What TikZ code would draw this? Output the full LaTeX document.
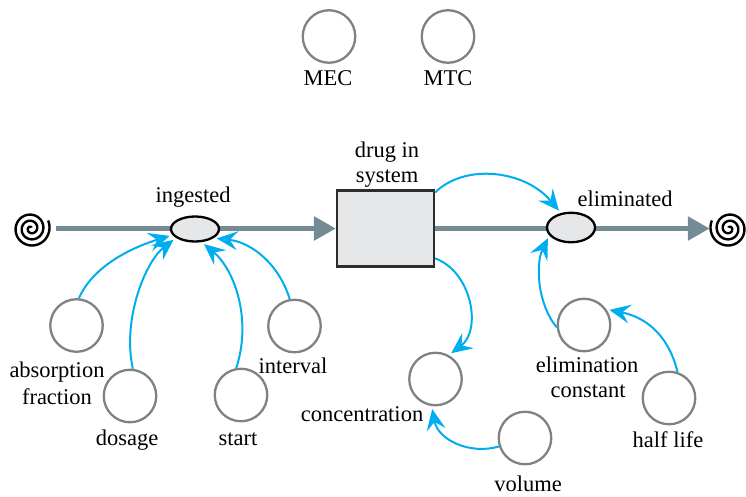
\documentclass[tikz,border=0pt]{standalone}
\usepackage{fontspec}
\setmainfont{Liberation Serif}
\usetikzlibrary{arrows.meta,shapes.geometric}
\definecolor{auxgray}{RGB}{128,129,132}
\definecolor{pipegray}{RGB}{116,138,148}
\definecolor{valvefill}{RGB}{230,231,233}
\definecolor{stockline}{RGB}{45,45,45}
\definecolor{linkblue}{RGB}{0,174,239}
\begin{document}
\begin{tikzpicture}[x=1pt,y=-1pt,
  aux/.style={circle, draw=auxgray, line width=2.3pt, minimum size=52.5pt, inner sep=0pt},
  valve/.style={ellipse, draw=black, fill=valvefill, line width=2.3pt, inner sep=0pt, minimum width=48pt},
  stockbox/.style={rectangle, draw=stockline, fill=valvefill, line width=2.2pt, inner sep=0pt, minimum width=97pt, minimum height=76pt},
  cloudnode/.style={circle, minimum size=38pt, inner sep=0pt},
  spiral/.style={draw=black, line width=2.4pt},
  pipe/.style={draw=pipegray, line width=5.5pt},
  conn/.style={draw=linkblue, line width=2pt, shorten >=3pt, -{Stealth[length=21pt,width=19pt,inset=8pt]}},
  lbl/.style={font=\fontsize{22.5}{26}\selectfont, inner sep=0pt, anchor=base}]
\useasboundingbox (0,0) rectangle (746,496);

% clouds
\node[cloudnode] (cL) at (31,228.5) {};
\node[cloudnode] (cR) at (729,228.5) {};
\begin{scope}[shift={(cL)}]
  \draw[spiral] plot[domain=60:1105, samples=300, smooth] ({0.0171*\x*cos(\x)}, {-0.0171*\x*sin(\x)});
\end{scope}
\begin{scope}[shift={(cR)}]
  \draw[spiral] plot[domain=60:1105, samples=300, smooth] ({-0.0171*\x*cos(\x)}, {-0.0171*\x*sin(\x)});
\end{scope}

% stock
\node[stockbox] (stk) at (385.5,228.5) {};

% pipes
\draw[pipe, shorten <=6pt, -{Triangle[length=22pt,width=23pt]}] (cL.east) -- (stk.west);
\draw[pipe, -{Triangle[length=22pt,width=23pt]}] (stk.east) -- (cR.west);

% valves
\node[valve, minimum height=25pt] (ing) at (195,229) {};
\node[valve, minimum height=29.5pt] (eli) at (571,227.5) {};

% auxiliaries
\node[aux] (mec) at (329,36.5) {};
\node[aux] (mtc) at (448,36.5) {};
\node[aux] (abs) at (76.5,325.5) {};
\node[aux] (dos) at (130,396) {};
\node[aux] (sta) at (241,395) {};
\node[aux] (int) at (294.5,326) {};
\node[aux] (con) at (435.5,379) {};
\node[aux] (vol) at (525,438) {};
\node[aux] (ec) at (584,325) {};
\node[aux] (hl) at (669,398) {};

% labels
\node[lbl] (tmec) at (328,85) {MEC};
\node[lbl] (tmtc) at (448,85) {MTC};
\node[lbl] (tdrug1) at (387,157) {drug in};
\node[lbl] (tdrug2) at (387,182) {system};
\node[lbl] (ting) at (193,202) {ingested};
\node[lbl] (teli) at (625,206) {eliminated};
\node[lbl] (tabs1) at (57,377) {absorption};
\node[lbl] (tabs2) at (57,404) {fraction};
\node[lbl] (tdos) at (127,445) {dosage};
\node[lbl] (tsta) at (238,445) {start};
\node[lbl] (tint) at (293,373) {interval};
\node[lbl] (tcon) at (362,421) {concentration};
\node[lbl] (tvol) at (528,491.5) {volume};
\node[lbl] (tec1) at (587,372) {elimination};
\node[lbl] (tec2) at (588,397) {constant};
\node[lbl] (thl) at (668,447) {half life};

% connectors
\draw[conn] (abs.85) .. controls (95,262) and (140,245) .. (ing.195);
\draw[conn] (dos.84) .. controls (122,320) and (145,262) .. (ing.205);
\draw[conn] (sta.100) .. controls (252,320) and (235,270) .. (ing.297);
\draw[conn] (int.100) .. controls (278,262) and (250,242) .. (ing.334);
\draw[conn] (stk.36) .. controls (465,163) and (525,170) .. (eli.125);
\draw[conn] (stk.-31) .. controls (472,272) and (482,330) .. (con.61);
\draw[conn] (vol.198) .. controls (470,455) and (438,440) .. (con.262);
\draw[conn] (ec.185) .. controls (538,305) and (535,265) .. (eli.200);
\draw[conn] (hl.72) .. controls (670,340) and (650,318) .. (ec.35);
\end{tikzpicture}
\end{document}
